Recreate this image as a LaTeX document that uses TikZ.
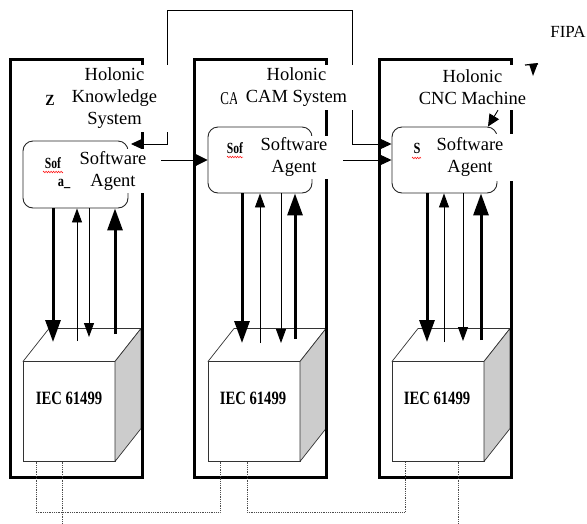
\documentclass[tikz,border=0pt]{standalone}
\usepackage{fontspec}
\setmainfont{Liberation Serif}
\usetikzlibrary{arrows.meta,decorations.pathmorphing,calc}
\begin{document}
\begin{tikzpicture}[x=1pt,y=-1pt,
  frame/.style={draw,line width=3pt,minimum width=132pt,minimum height=418pt,inner sep=0pt},
  agent/.style={draw=black!85,rounded corners=10pt,line width=0.9pt,minimum width=105pt,minimum height=66pt,inner sep=0pt},
  cover/.style={fill=white,inner sep=0pt,align=center,font=\fontsize{18.5}{22}\selectfont},
  front/.style={draw=black!80,line width=0.7pt,fill=white,minimum width=92pt,minimum height=100pt,inner sep=0pt,outer sep=0pt},
  face/.style={draw=black!80,line width=0.7pt,line join=round},
  frag/.style={inner sep=0pt,font=\fontsize{15.5}{16}\bfseries},
  iec/.style={inner sep=0pt,font=\fontsize{18.8}{20}\bfseries},
  thinl/.style={line width=0.9pt},
  thickl/.style={line width=3pt},
  tipsm/.style={-{Triangle[length=12pt,width=11pt]}},
  tipthin/.style={-{Triangle[length=14pt,width=10pt]}},
  tipthick/.style={-{Triangle[length=22pt,width=15pt]}},
  dots/.style={densely dotted,line width=0.8pt,draw=black!70},
  squig/.style={red,line width=0.5pt,decorate,decoration={zigzag,amplitude=0.8pt,segment length=2.5pt}}
]
\useasboundingbox (0,0) rectangle (587,523);

% cubes
\foreach \c/\cx in {c1/69,c2/254,c3/438}{
  \node[front] (\c) at (\cx,411.5) {};
  \draw[face,fill=white] (\c.north west) -- ++(26,-33) -- ++(92,0) -- (\c.north east) -- cycle;
  \draw[face,fill=gray!40] (\c.north east) -- ++(26,-33) -- ++(0,100) -- (\c.south east) -- cycle;
}

% frames
\node[frame] (f1) at (76,268) {};
\node[frame] (f2) at (260,268) {};
\node[frame] (f3) at (445,268) {};

% agents
\node[agent,minimum height=67pt] (a1) at (75.5,174.5) {};
\node[agent,minimum width=104pt] (a2) at (260,160) {};
\node[agent] (a3) at (444.5,160) {};

% loop connector between knowledge system and CNC agent
\coordinate (k1) at (131,144);
\coordinate (k2) at (167,10);
\coordinate (k3) at (352,10);
\draw[thinl,{Triangle[length=12pt,width=11pt]}-{Triangle[length=12pt,width=11pt]}]
  (k1) -- (k2 |- k1) -- (k2) -- (k3) -- (k3 |- k1) -- (a3.west |- k1);

% hidden fragments
\node[frag] (z1) at (50,100) {\scalebox{0.9}[1]{Z}};
\node[inner sep=0pt,font=\fontsize{18}{18}\selectfont] (ca) at (229.5,99) {\scalebox{0.72}[1]{CA}};
\node[frag] (sf1) at (53,163) {\scalebox{0.75}[1]{Sof}};
\node[frag] (sf2) at (235,148) {\scalebox{0.75}[1]{Sof}};
\node[frag] (sd2) at (253,172) {\scalebox{0.8}[1]{\_}};
\node[frag] (sf3) at (417,148) {\scalebox{0.8}[1]{S}};
\node[frag] (sd3) at (437,173) {\scalebox{0.8}[1]{\_}};
\draw[squig] (43,172) -- (63,172);
\draw[squig] (227,157) -- (243,157);
\draw[squig] (412,158) -- (421,158);

% white text boxes
\node[cover,minimum width=109pt,minimum height=67pt] (t1) at (114.5,98.5) {Holonic\\Knowledge\\System};
\node[cover,minimum width=119pt,minimum height=45pt] (t2) at (296.5,87.5) {Holonic\\CAM System};
\node[cover,minimum width=120pt,minimum height=45pt] (t3) at (472.5,87.5) {Holonic\\CNC Machine};
\node[cover,minimum width=96pt,minimum height=44pt] (s1) at (113,170.5) {Software\\Agent};
\node[cover,minimum width=98pt,minimum height=43pt] (s2) at (294,157) {Software\\Agent};
\node[cover,minimum width=90pt,minimum height=47pt] (s3) at (470,157) {Software\\Agent};
\node[frag] (sa1) at (64,184) {\scalebox{0.8}[1]{a\_}};

% agent to agent arrows
\draw[thinl,-{Triangle[length=13pt,width=13pt]}] (s1.east |- a2.west) -- (a2.west);
\draw[thinl,tipsm] (s2.east |- a3.west) -- (a3.west);
\draw[thinl,tipsm] (t3.south -| 498,0) -- (a3.north -| 488,0);

% FIPA
\node[inner sep=0pt,font=\fontsize{17}{18}\selectfont] (fipa) at (568,32) {FIPA};
\coordinate (fp) at (532,64);
\draw[line width=1.2pt] (fp) ++(-7,1) -- ++(13,-1);
\fill (fp) ++(-3,0) -- ++(9,-1) -- ++(-5,13) -- cycle;

% vertical arrows between agents and IEC 61499 blocks
\foreach \ag/\xa/\xb/\xc/\xd/\ya/\yb/\yc/\yd in {a1/53/77/89/115/342/341/337/334, a2/242/260/281/295/343/343/343/339, a3/427/444/463/481/342/342/341/340}{
  \coordinate (\ag-p1) at (\xa,\ya);
  \coordinate (\ag-p2) at (\xb,\yb);
  \coordinate (\ag-p3) at (\xc,\yc);
  \coordinate (\ag-p4) at (\xd,\yd);
  \draw[thickl,tipthick] (\ag.south -| \ag-p1) -- (\ag-p1);
  \draw[thinl,tipthin] (\ag-p2) -- (\ag.south -| \ag-p2);
  \draw[thinl,tipthin] (\ag.south -| \ag-p3) -- (\ag-p3);
  \draw[thickl,tipthick] (\ag-p4) -- (\ag.south -| \ag-p4);
}

% IEC labels
\node[iec] (l1) at (69,398) {\scalebox{0.78}[1]{IEC 61499}};
\node[iec] (l2) at (253,398) {\scalebox{0.78}[1]{IEC 61499}};
\node[iec] (l3) at (437,398) {\scalebox{0.78}[1]{IEC 61499}};

% dotted bus lines
\coordinate (q1) at (36,512);
\coordinate (q2) at (220,512);
\coordinate (q3) at (62,523);
\coordinate (q4) at (247,512);
\coordinate (q5) at (405,512);
\coordinate (q6) at (458,523);
\draw[dots] (c1.south -| q1) -- (q1) -- (q2) -- (c2.south -| q2);
\draw[dots] (c1.south -| q3) -- (q3);
\draw[dots] (c2.south -| q4) -- (q4) -- (q5) -- (c3.south -| q5);
\draw[dots] (c3.south -| q6) -- (q6);
\end{tikzpicture}
\end{document}
